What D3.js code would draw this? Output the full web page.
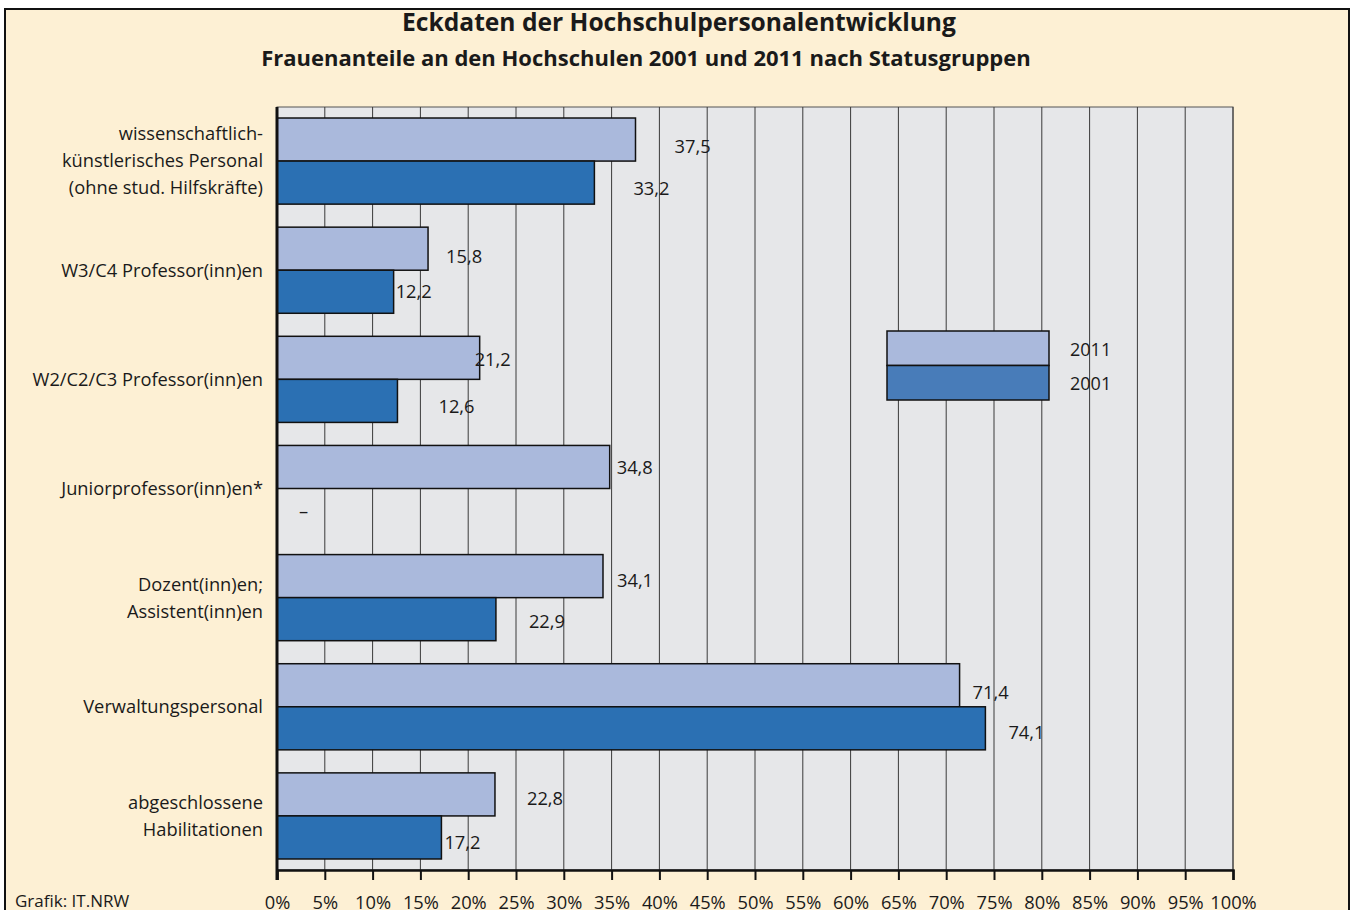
<!DOCTYPE html>
<html>
<head>
<meta charset="utf-8">
<script src="https://cdn.jsdelivr.net/npm/d3@7"></script>
<style>
  body { margin: 0; background: #fff; }
  svg text { font-family: "Open Sans", "DejaVu Sans", sans-serif; fill: #1a1a1a; }
</style>
</head>
<body>
<svg width="1354" height="910"></svg>
<script>
const svg = d3.select('svg');

const width = +svg.attr('width');
const height = +svg.attr('height');

// categories (top to bottom), multi-line labels split on '|'
const categories = [
  'wissenschaftlich-|künstlerisches Personal|(ohne stud. Hilfskräfte)',
  'W3/C4 Professor(inn)en',
  'W2/C2/C3 Professor(inn)en',
  'Juniorprofessor(inn)en*',
  'Dozent(inn)en;|Assistent(inn)en',
  'Verwaltungspersonal',
  'abgeschlossene|Habilitationen'
];
const years = ['2011', '2001'];
const values2011 = [37.5, 15.8, 21.2, 34.8, 34.1, 71.4, 22.8];
const values2001 = [33.2, 12.2, 12.6, null, 22.9, 74.1, 17.2];
const xTicks = d3.range(0, 101, 5);

// label nudges (px) as placed in the original graphic
const nudge2011 = [[39, 7], [18, 8], [-5, 2], [7, 1], [14, 4], [13, 7], [32, 4]];
const nudge2001 = [[39, 6], [2, 0], [41, 6], [22, 2], [33, 2], [23, 4], [3, 5]];

const colors = { '2011': '#aab9dc', '2001': '#2b70b3' };
const legendColors = { '2011': '#aab9dc', '2001': '#487cb9' };

const margin = { top: 107, right: 121, bottom: 40, left: 277 };
const innerWidth = width - margin.left - margin.right;
const innerHeight = 870 - margin.top;

// frame
svg.append('rect')
  .attr('x', 5).attr('y', 9)
  .attr('width', 1344).attr('height', 910)
  .attr('fill', '#fdf0d4')
  .attr('stroke', '#111')
  .attr('stroke-width', 2);

// titles
svg.append('text')
  .attr('x', 679).attr('y', 31)
  .attr('text-anchor', 'middle')
  .style('font-size', '24.6px').style('font-weight', 'bold')
  .text('Eckdaten der Hochschulpersonalentwicklung');
svg.append('text')
  .attr('x', 646).attr('y', 66)
  .attr('text-anchor', 'middle')
  .style('font-size', '22px').style('font-weight', 'bold')
  .text('Frauenanteile an den Hochschulen 2001 und 2011 nach Statusgruppen');

svg.append('text')
  .attr('x', 15).attr('y', 907)
  .style('font-size', '17px')
  .text('Grafik: IT.NRW');

const xScale = d3.scaleLinear().domain([0, 100]).range([0, innerWidth]);
const yScale = d3.scaleBand()
  .domain(categories)
  .range([0, innerHeight])
  .paddingInner(23 / 109)
  .paddingOuter(11 / 109);
const ySub = d3.scaleBand().domain(years).range([0, yScale.bandwidth()]);

const g = svg.append('g')
  .attr('transform', `translate(${margin.left},${margin.top})`);

g.append('rect')
  .attr('width', innerWidth).attr('height', innerHeight)
  .attr('fill', '#e6e7e9')
  .attr('stroke', '#555').attr('stroke-width', 1);

// vertical gridlines
g.selectAll('.grid').data(xTicks.slice(1))
  .enter().append('line')
    .attr('class', 'grid')
    .attr('x1', d => xScale(d)).attr('x2', d => xScale(d))
    .attr('y1', 0).attr('y2', innerHeight)
    .attr('stroke', '#3a3a3a').attr('stroke-width', 1);

const rows = categories.map((c, i) => ({ cat: c, i, v: { '2011': values2011[i], '2001': values2001[i] } }));

const groups = g.selectAll('.grp').data(rows)
  .enter().append('g')
    .attr('class', 'grp')
    .attr('transform', d => `translate(0,${yScale(d.cat)})`);

years.forEach(yr => {
  const nudge = yr === '2011' ? nudge2011 : nudge2001;
  groups.filter(d => d.v[yr] != null)
    .append('rect')
      .attr('x', 0)
      .attr('y', ySub(yr))
      .attr('width', d => xScale(d.v[yr]))
      .attr('height', ySub.bandwidth())
      .attr('fill', colors[yr])
      .attr('stroke', '#111').attr('stroke-width', 1.5);
  groups.append('text')
    .attr('x', d => d.v[yr] != null ? xScale(d.v[yr]) + nudge[d.i][0] : 22)
    .attr('y', d => ySub(yr) + ySub.bandwidth() / 2 + (d.v[yr] != null ? nudge[d.i][1] : 2))
    .attr('dy', '0.35em')
    .style('font-size', '18.3px')
    .text(d => d.v[yr] != null ? d3.format('.1f')(d.v[yr]).replace('.', ',') : '–');
});

// category labels
const catLabels = g.selectAll('.cat').data(categories)
  .enter().append('text')
    .attr('class', 'cat')
    .attr('text-anchor', 'end')
    .attr('x', -14)
    .style('font-size', '18.3px');
catLabels.each(function(d) {
  const lines = d.split('|');
  const mid = yScale(d) + yScale.bandwidth() / 2;
  const lh = 27;
  d3.select(this).selectAll('tspan').data(lines)
    .enter().append('tspan')
      .attr('x', -14)
      .attr('y', (l, j) => mid + (j - (lines.length - 1) / 2) * lh)
      .attr('dy', '0.35em')
      .text(l => l);
});

// axes
const xAxis = d3.axisBottom(xScale)
  .tickValues(xTicks)
  .tickSize(10)
  .tickPadding(16)
  .tickFormat(d => d + '%');
const xAxisG = g.append('g')
  .attr('transform', `translate(0,${innerHeight})`)
  .call(xAxis);
xAxisG.select('.domain').attr('stroke', '#111').attr('stroke-width', 2.5);
xAxisG.selectAll('.tick line').attr('stroke', '#111').attr('stroke-width', 2);
xAxisG.selectAll('.tick text')
  .style('font-size', '18.3px')
  .style('font-family', '"Open Sans", sans-serif')
  .attr('fill', '#1a1a1a');

g.append('line')
  .attr('x1', 0).attr('x2', 0)
  .attr('y1', 0).attr('y2', innerHeight + 10)
  .attr('stroke', '#111').attr('stroke-width', 3);

// legend
const legend = svg.append('g').attr('transform', 'translate(887,331)');
const lgH = 34.5;
legend.selectAll('rect').data(years)
  .enter().append('rect')
    .attr('x', 0)
    .attr('y', (d, i) => i * lgH)
    .attr('width', 162).attr('height', lgH)
    .attr('fill', d => legendColors[d])
    .attr('stroke', '#111').attr('stroke-width', 1.5);
legend.selectAll('text').data(years)
  .enter().append('text')
    .attr('x', 183)
    .attr('y', (d, i) => i * lgH + lgH / 2 + 1)
    .attr('dy', '0.35em')
    .style('font-size', '18px')
    .text(d => d);
</script>
</body>
</html>
